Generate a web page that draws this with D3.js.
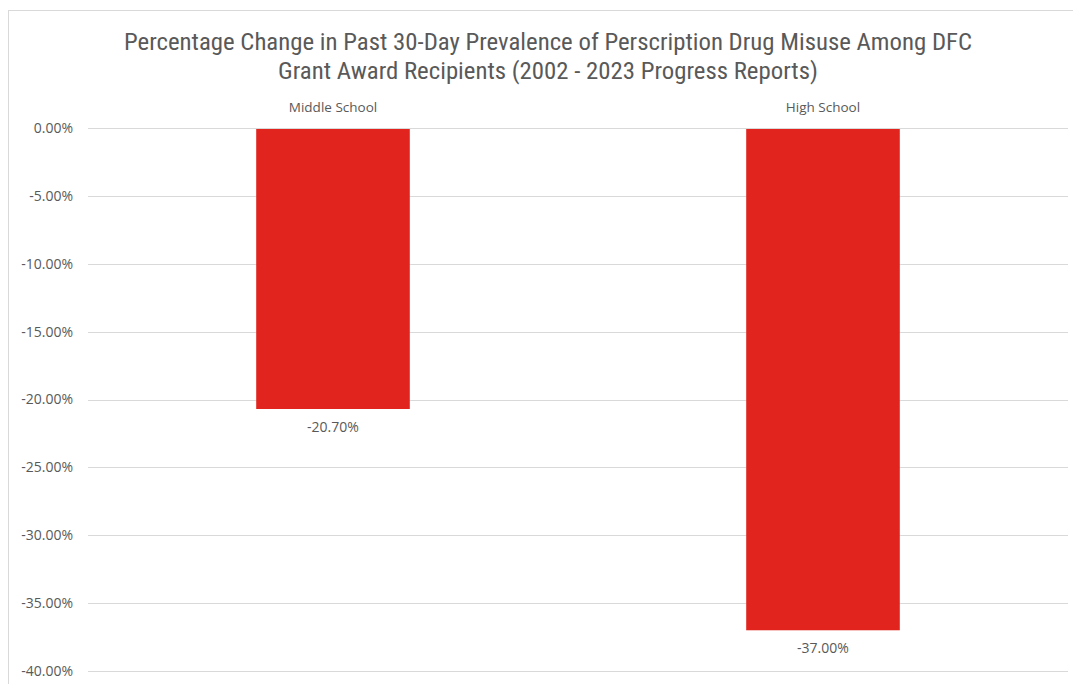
<!DOCTYPE html>
<html>
<head>
<meta charset="utf-8">
<script src="https://cdn.jsdelivr.net/npm/d3@7"></script>
<style>
  body { margin: 0; background: #fff; }
  svg text { fill: #595959; font-family: "Open Sans", "Liberation Sans", sans-serif; }
  .title { font-family: "Liberation Sans Narrow", "Roboto Condensed", "DejaVu Sans Condensed", sans-serif; font-stretch: condensed; }
</style>
</head>
<body>
<svg id="chart"></svg>
<script>
const categories = ["Middle School", "High School"];
const values = [-20.7, -37.0];
const yTicks = [0, -5, -10, -15, -20, -25, -30, -35, -40];
const titleLines = [
  "Percentage Change in Past 30-Day Prevalence of Perscription Drug Misuse Among DFC",
  "Grant Award Recipients (2002 - 2023 Progress Reports)"
];

const width = 1073;
const height = 684;
const margin = { top: 128, right: 5, bottom: 13, left: 88 };

const svg = d3.select("#chart")
  .attr("width", width)
  .attr("height", height);

// chart area border
svg.append("rect")
  .attr("x", 8.5)
  .attr("y", 10.5)
  .attr("width", width)
  .attr("height", height)
  .attr("fill", "none")
  .attr("stroke", "#d9d9d9");

const x = d3.scaleBand()
  .domain(categories)
  .range([margin.left, width - margin.right]);

const y = d3.scaleLinear()
  .domain([0, -40])
  .range([margin.top, height - margin.bottom]);

const barWidth = x.bandwidth() / 3.19;

// gridlines
svg.append("g")
  .selectAll("line")
  .data(yTicks)
  .join("line")
  .attr("x1", margin.left)
  .attr("x2", width - margin.right)
  .attr("y1", d => Math.round(y(d)) + 0.5)
  .attr("y2", d => Math.round(y(d)) + 0.5)
  .attr("stroke", "#d9d9d9")
  .attr("stroke-width", 1);

// y labels
svg.append("g")
  .selectAll("text")
  .data(yTicks)
  .join("text")
  .attr("x", 73)
  .attr("y", d => y(d))
  .attr("dy", "0.35em")
  .attr("text-anchor", "end")
  .style("font-size", "14px")
  .text(d => d.toFixed(2) + "%");

// bars
svg.append("g")
  .selectAll("rect")
  .data(values)
  .join("rect")
  .attr("x", (d, i) => x(categories[i]) + x.bandwidth() / 2 - barWidth / 2)
  .attr("y", y(0) + 1)
  .attr("width", barWidth)
  .attr("height", d => y(d) - y(0) - 1)
  .attr("fill", "#e1251e");

// category labels above the zero line
svg.append("g")
  .selectAll("text")
  .data(categories)
  .join("text")
  .attr("x", d => x(d) + x.bandwidth() / 2)
  .attr("y", 112)
  .attr("text-anchor", "middle")
  .style("font-size", "13.5px")
  .text(d => d);

// data labels
svg.append("g")
  .selectAll("text")
  .data(values)
  .join("text")
  .attr("x", (d, i) => x(categories[i]) + x.bandwidth() / 2)
  .attr("y", d => y(d) + 23)
  .attr("text-anchor", "middle")
  .style("font-size", "14px")
  .text(d => d.toFixed(2) + "%");

// title
svg.append("g")
  .selectAll("text")
  .data(titleLines)
  .join("text")
  .attr("class", "title")
  .attr("x", 548)
  .attr("y", (d, i) => 50 + i * 29)
  .attr("text-anchor", "middle")
  .style("font-size", "24.8px")
  .text(d => d);
</script>
</body>
</html>
